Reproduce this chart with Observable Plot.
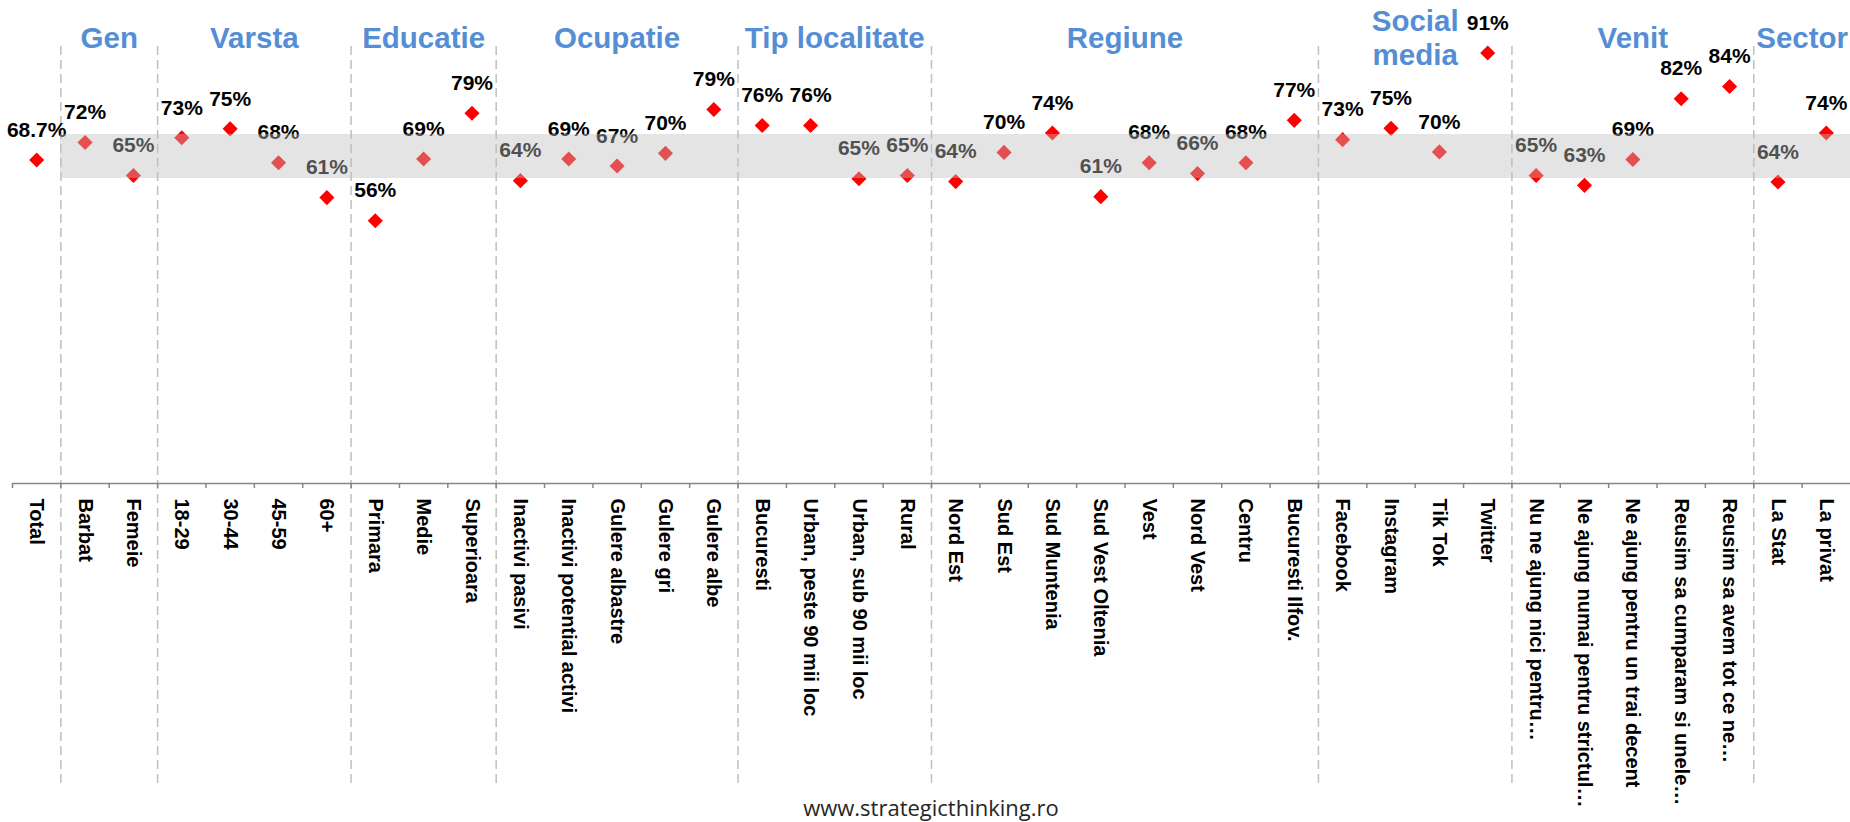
<!DOCTYPE html>
<html>
<head>
<meta charset="utf-8">
<script src="https://cdn.jsdelivr.net/npm/d3@7"></script>
<script src="https://cdn.jsdelivr.net/npm/@observablehq/plot@0.6"></script>
<style>
  html, body { margin: 0; padding: 0; background: #ffffff; }
  #chart svg { overflow: visible; display: block; }
  #caption { height: 32px; line-height: 34px; text-align: center; padding-left: 12px; font-family: "Open Sans", sans-serif; font-size: 22px; color: #262626; }
</style>
</head>
<body>
<div id="chart"></div>
<div id="caption">www.strategicthinking.ro</div>
<script>
const categories = ["Total","Barbat","Femeie","18-29","30-44","45-59","60+","Primara","Medie","Superioara",
  "Inactivi pasivi","Inactivi potential activi","Gulere albastre","Gulere gri","Gulere albe",
  "Bucuresti","Urban, peste 90 mii loc","Urban, sub 90 mii loc","Rural",
  "Nord Est","Sud Est","Sud Muntenia","Sud Vest Oltenia","Vest","Nord Vest","Centru","Bucuresti Ilfov.",
  "Facebook","Instagram","Tik Tok","Twitter",
  "Nu ne ajung nici pentru…","Ne ajung numai pentru strictul…","Ne ajung pentru un trai decent","Reusim sa cumparam si unele…","Reusim sa avem tot ce ne…",
  "La Stat","La privat"];
const values = [68.7, 72.4, 65.4, 73.4, 75.3, 68.1, 60.7, 55.8, 68.9, 78.6,
  64.3, 68.9, 67.4, 70.1, 79.4,
  76.0, 76.0, 64.7, 65.4,
  64.1, 70.3, 74.4, 60.9, 68.1, 65.8, 68.1, 77.1,
  73.0, 75.4, 70.4, 91.4,
  65.4, 63.3, 68.8, 81.7, 84.3,
  64.0, 74.4];
const labels = ["68.7%","72%","65%","73%","75%","68%","61%","56%","69%","79%",
  "64%","69%","67%","70%","79%",
  "76%","76%","65%","65%",
  "64%","70%","74%","61%","68%","66%","68%","77%",
  "73%","75%","70%","91%",
  "65%","63%","69%","82%","84%",
  "64%","74%"];
const groupNames = ["", "Gen", "Varsta", "Educatie", "Ocupatie", "Tip localitate", "Regiune", "Social\nmedia", "Venit", "Sector"];
const groupSizes = [1, 2, 4, 3, 5, 4, 8, 4, 5, 2];
const bandRange = [64.7, 74.2];

const W = 1850, H = 790, ML = 12;
const bw = (W - ML) / categories.length;

const data = categories.map((c, i) => ({cat: c, value: values[i], label: labels[i]}));

let idx = 0;
const groups = groupNames.map((name, g) => {
  const start = idx;
  idx += groupSizes[g];
  return {name, first: categories[start], size: groupSizes[g]};
});
const separatorCats = groups.slice(1).map(g => g.first);

const headerMarks = groups.slice(1).map(g =>
  Plot.text([g], {
    x: d => d.first, text: d => d.name,
    frameAnchor: "top", dy: 37, dx: (g.size - 1) * bw / 2,
    lineAnchor: "middle", lineHeight: 1.15,
    fontSize: 29.5, fontWeight: "bold", fill: "#558ED5"
  })
);

const chart = Plot.plot({
  width: W, height: H,
  marginLeft: ML, marginRight: 0, marginTop: 0, marginBottom: 0,
  style: {fontFamily: "'Liberation Sans', Arial, sans-serif", background: "white"},
  x: {type: "band", domain: categories, padding: 0, round: false, axis: null},
  y: {domain: [0, 100], range: [483, 12], axis: null},
  marks: [
    Plot.ruleX(separatorCats, {x: d => d, dx: -bw / 2, stroke: "#BFBFBF", strokeWidth: 1.5, strokeDasharray: "9,5", insetTop: 46, insetBottom: 7}),
    Plot.dot(data, {x: "cat", y: "value", symbol: "diamond2", r: 6.8, fill: "#FF0000", stroke: "none"}),
    Plot.text(data, {x: "cat", y: "value", text: "label", dy: -30, fontSize: 21, fontWeight: "bold", fill: "#000000"}),
    Plot.barY(categories.slice(1), {x: d => d, y1: () => bandRange[0], y2: () => bandRange[1], fill: "#BFBFBF", fillOpacity: 0.42, shapeRendering: "crispEdges"}),
    Plot.ruleY([0], {stroke: "#868686", strokeWidth: 1.5}),
    Plot.ruleX(categories, {x: d => d, dx: -bw / 2, y1: () => 0, y2: () => 0, insetBottom: -5, stroke: "#868686", strokeWidth: 1.5}),
    Plot.text(categories, {x: d => d, y: () => 0, text: d => d, rotate: 90, textAnchor: "start", dy: 15, fontSize: 20, fontWeight: "bold", fill: "#000000"}),
    ...headerMarks
  ]
});
document.getElementById("chart").appendChild(chart);
</script>
</body>
</html>
